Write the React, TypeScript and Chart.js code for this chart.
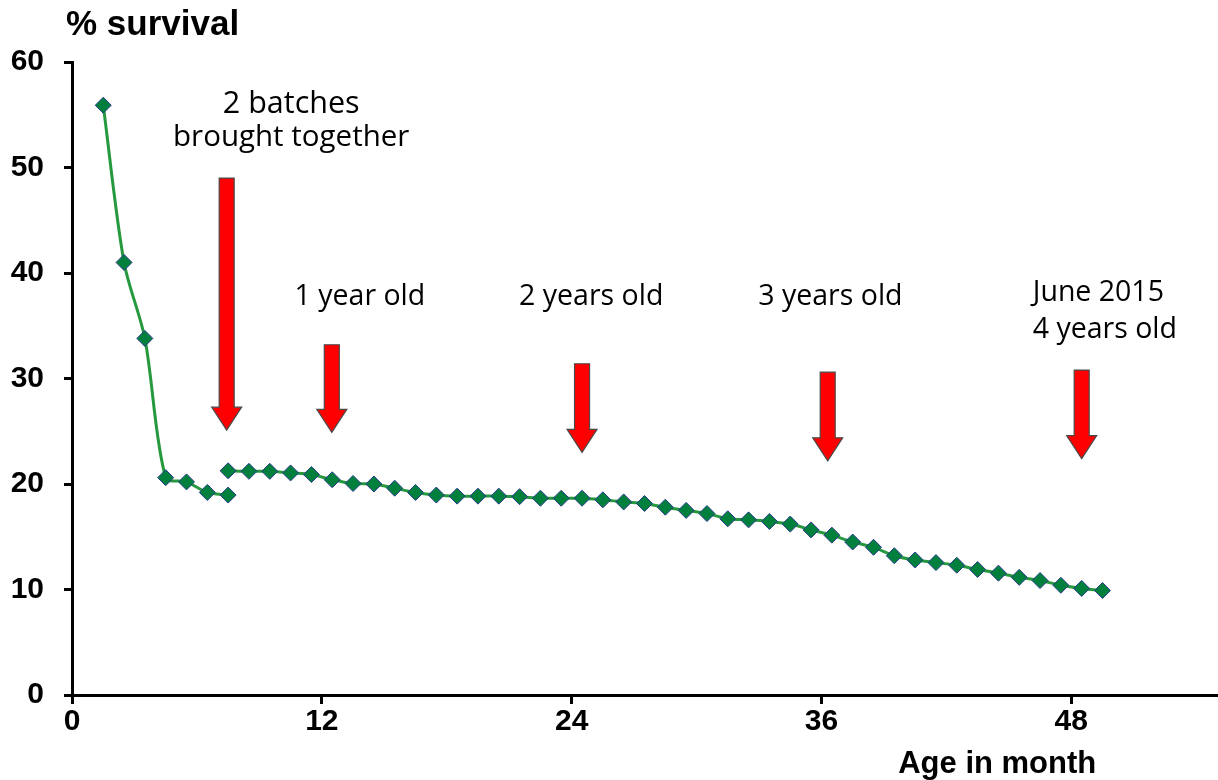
import React, { useEffect, useRef } from "react";
import { Chart, registerables } from "chart.js";

Chart.register(...registerables);

// ---- data ----
const firstBatchMonths = [1.5, 2.5, 3.5, 4.5, 5.5, 6.5, 7.5];
const firstBatchSurvival = [55.9, 41.0, 33.8, 20.6, 20.2, 19.2, 18.95];

const combinedMonths = [
  7.5, 8.5, 9.5, 10.5, 11.5, 12.5, 13.5, 14.5, 15.5, 16.5, 17.5, 18.5, 19.5, 20.5,
  21.5, 22.5, 23.5, 24.5, 25.5, 26.5, 27.5, 28.5, 29.5, 30.5, 31.5, 32.5, 33.5,
  34.5, 35.5, 36.5, 37.5, 38.5, 39.5, 40.5, 41.5, 42.5, 43.5, 44.5, 45.5, 46.5,
  47.5, 48.5, 49.5,
];
const combinedSurvival = [
  21.25, 21.2, 21.2, 21.05, 20.9, 20.4, 20.05, 20.0, 19.6, 19.2, 18.95, 18.85, 18.85,
  18.85, 18.8, 18.65, 18.65, 18.65, 18.5, 18.3, 18.15, 17.8, 17.5, 17.2, 16.7, 16.6,
  16.45, 16.2, 15.65, 15.15, 14.5, 14.0, 13.2, 12.8, 12.55, 12.3, 11.9, 11.55, 11.15,
  10.85, 10.4, 10.1, 9.9,
];

const xTickStep = 12;
const yTickStep = 10;

// ---- annotations (in data units) ----
const arrowMonths = [7.43, 12.48, 24.5, 36.3, 48.5];
const arrowTops = [49.0, 33.2, 31.4, 30.6, 30.8];
const arrowTips = [25.1, 24.9, 23.0, 22.2, 22.4];

const noteTexts = [
  "2 batches",
  "brought together",
  "1 year old",
  "2 years old",
  "3 years old",
  "June 2015",
  "4 years old",
];
const noteMonths = [10.53, 10.53, 13.83, 24.94, 36.43, 46.15, 46.15];
const noteLevels = [56.0, 52.8, 37.7, 37.7, 37.7, 38.1, 34.6];
const noteAligns: CanvasTextAlign[] = ["center", "center", "center", "center", "center", "left", "left"];
const noteSizes = [30.5, 29.5, 28.5, 28.5, 28.5, 28.5, 28.5];

const yTitle = "% survival";
const xTitle = "Age in month";

const BOLD_FONT = '"Liberation Sans", Arial, sans-serif';
const NOTE_FONT = '"Open Sans", "Noto Sans", sans-serif';

const annotationPlugin = {
  id: "annotations",
  afterDraw(chart: any) {
    const { ctx, scales, chartArea } = chart;
    const xs = scales.x;
    const ys = scales.y;
    ctx.save();

    // arrows
    const shaftHalf = 7.5;
    const headHalf = 15;
    const headLen = 23;
    arrowMonths.forEach((m, i) => {
      const cx = xs.getPixelForValue(m);
      const top = ys.getPixelForValue(arrowTops[i]);
      const tip = ys.getPixelForValue(arrowTips[i]);
      const hb = tip - headLen;
      ctx.beginPath();
      ctx.moveTo(cx - shaftHalf, top);
      ctx.lineTo(cx + shaftHalf, top);
      ctx.lineTo(cx + shaftHalf, hb);
      ctx.lineTo(cx + headHalf, hb);
      ctx.lineTo(cx, tip);
      ctx.lineTo(cx - headHalf, hb);
      ctx.lineTo(cx - shaftHalf, hb);
      ctx.closePath();
      ctx.fillStyle = "#FF0000";
      ctx.fill();
      ctx.lineWidth = 1.2;
      ctx.strokeStyle = "#4a4a4a";
      ctx.stroke();
    });

    // notes
    ctx.fillStyle = "#000";
    ctx.textBaseline = "middle";
    noteTexts.forEach((t, i) => {
      ctx.font = `${noteSizes[i]}px ${NOTE_FONT}`;
      ctx.textAlign = noteAligns[i];
      ctx.fillText(t, xs.getPixelForValue(noteMonths[i]), ys.getPixelForValue(noteLevels[i]));
    });

    // axis titles
    ctx.font = `bold 35px ${BOLD_FONT}`;
    ctx.textAlign = "left";
    ctx.textBaseline = "middle";
    ctx.fillText(yTitle, chartArea.left - 6, 25);

    ctx.font = `bold 31px ${BOLD_FONT}`;
    ctx.textAlign = "right";
    ctx.fillText(xTitle, xs.getPixelForValue(49.2), 764);

    ctx.restore();
  },
};

function lineDataset(months: number[], values: number[]) {
  return {
    data: months.map((m, i) => ({ x: m, y: values[i] })),
    borderColor: "#26993F",
    borderWidth: 3,
    tension: 0.3,
    fill: false,
    pointStyle: "rectRot",
    pointRadius: 8,
    pointBackgroundColor: "#00803C",
    pointBorderColor: "#2A3A8C",
    pointBorderWidth: 1,
  };
}

export default function App() {
  const ref = useRef<HTMLCanvasElement>(null);

  useEffect(() => {
    const canvas = ref.current;
    if (!canvas) return;
    const tickFont = { family: BOLD_FONT, size: 30, weight: "bold" as const };
    const chart = new Chart(canvas, {
      type: "line",
      data: {
        datasets: [
          lineDataset(firstBatchMonths, firstBatchSurvival) as any,
          lineDataset(combinedMonths, combinedSurvival) as any,
        ],
      },
      options: {
        animation: false,
        responsive: false,
        layout: { padding: { top: 62, left: 0, right: 0, bottom: 0 } },
        plugins: {
          legend: { display: false },
          tooltip: { enabled: false },
          title: { display: false },
        },
        scales: {
          x: {
            type: "linear",
            min: 0,
            max: 55,
            ticks: {
              stepSize: xTickStep,
              includeBounds: false,
              color: "#000",
              font: tickFont,
              padding: 0,
              maxRotation: 0,
            },
            grid: {
              drawOnChartArea: false,
              drawTicks: true,
              tickLength: 9,
              tickWidth: 3,
              tickColor: "#000",
            },
            border: { display: true, width: 3, color: "#000" },
            afterFit: (s: any) => {
              s.height = 85;
            },
          },
          y: {
            type: "linear",
            min: 0,
            max: 60,
            ticks: {
              stepSize: yTickStep,
              color: "#000",
              font: tickFont,
              padding: 20,
            },
            grid: {
              drawOnChartArea: false,
              drawTicks: true,
              tickLength: 8,
              tickWidth: 3,
              tickColor: "#000",
            },
            border: { display: true, width: 3, color: "#000" },
            afterFit: (s: any) => {
              s.width = 72;
            },
          },
        },
      },
      plugins: [annotationPlugin],
    });
    return () => chart.destroy();
  }, []);

  return (
    <div
      style={{
        position: "fixed",
        left: 0,
        top: 0,
        width: 1218,
        height: 780,
        overflow: "hidden",
        background: "#fff",
      }}
    >
      <canvas ref={ref} width={1226} height={780} style={{ display: "block", width: 1226, height: 780 }} />
    </div>
  );
}
